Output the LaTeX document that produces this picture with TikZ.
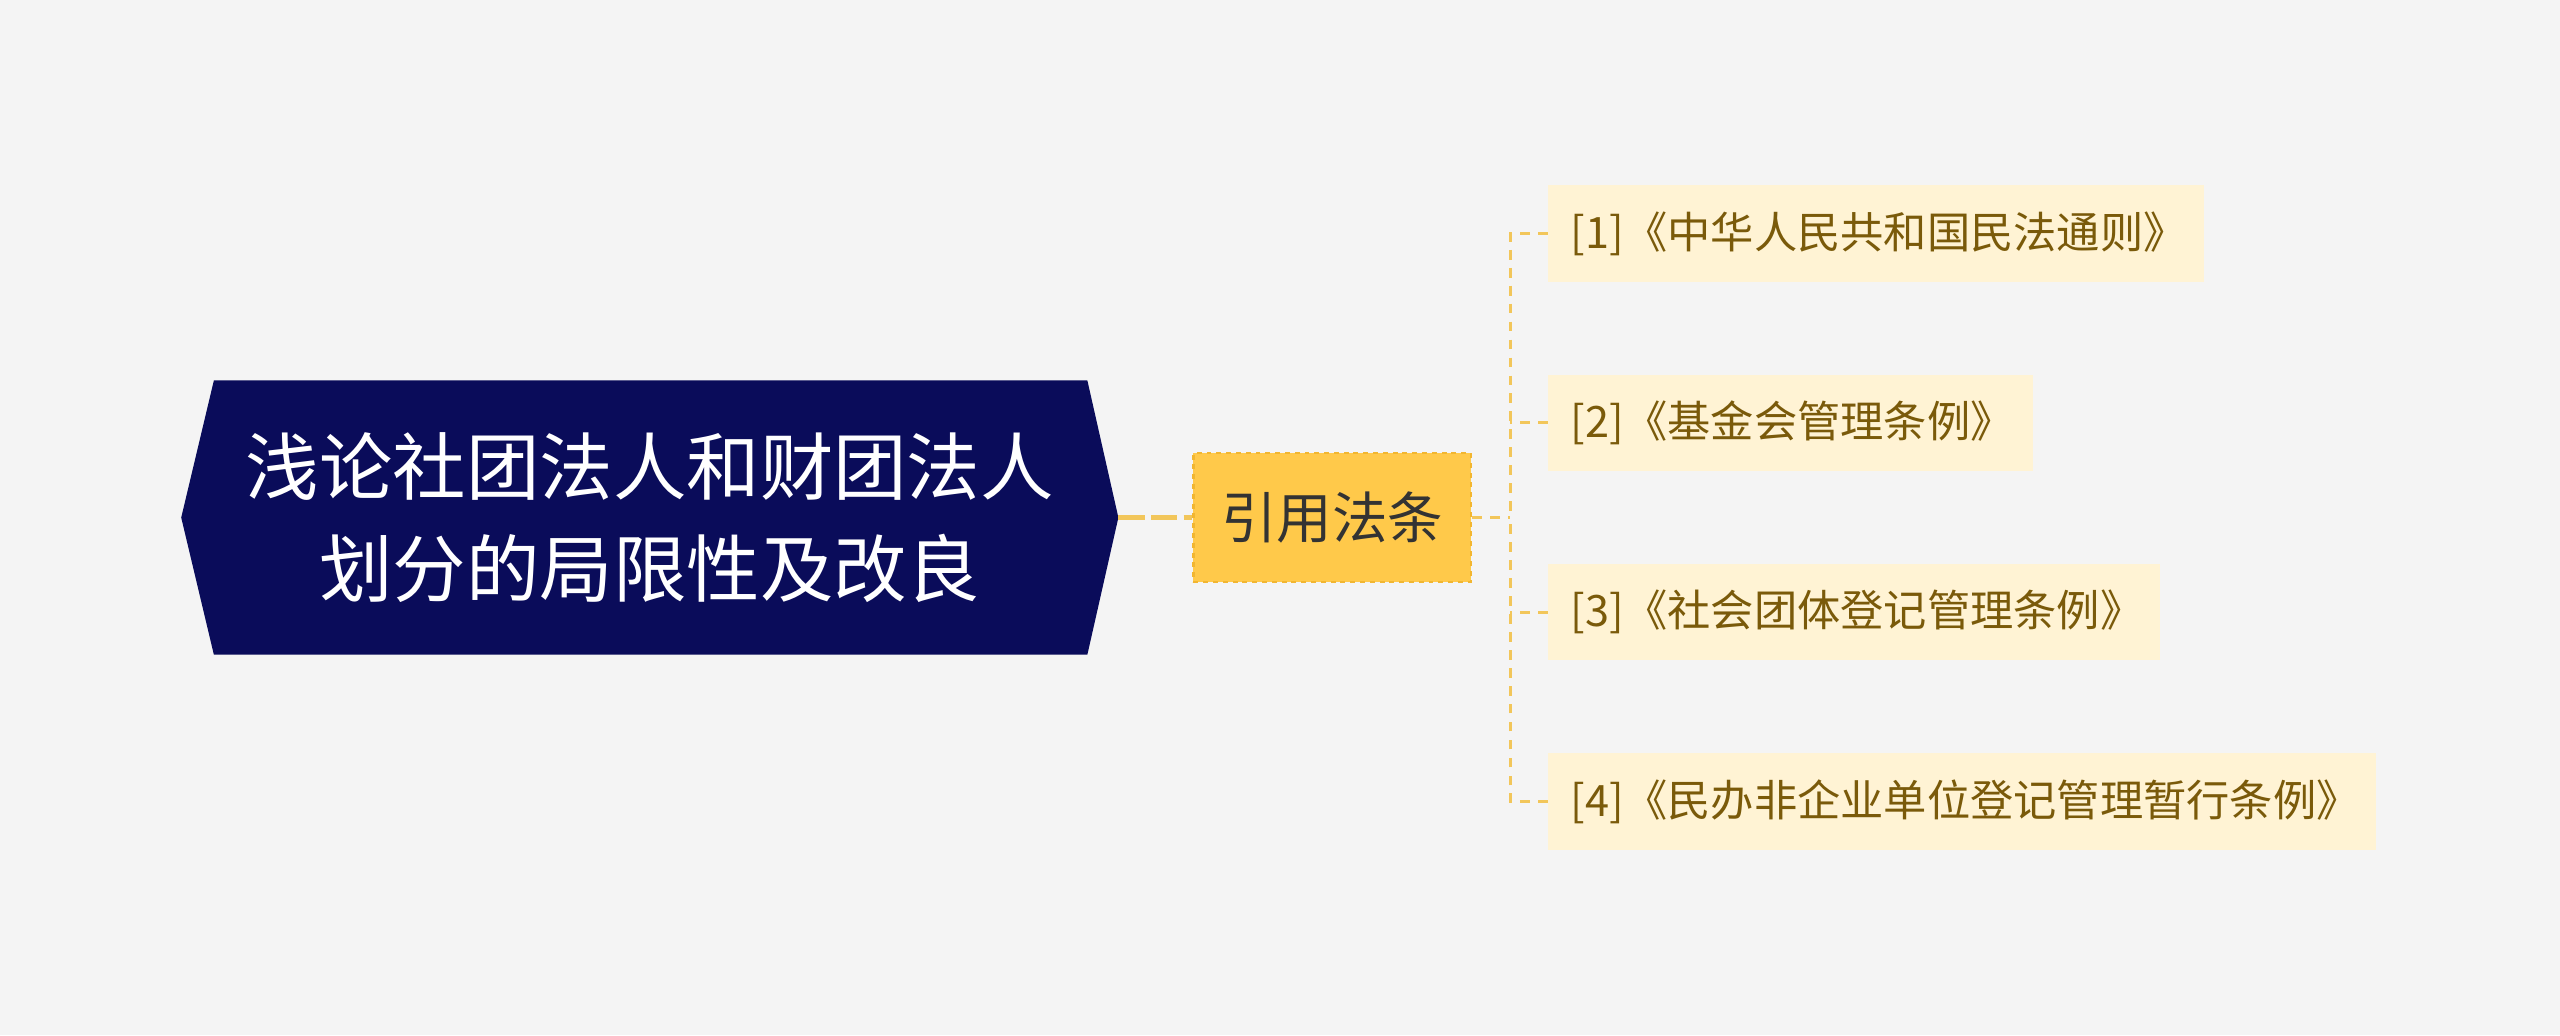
\documentclass[tikz,border=0pt]{standalone}
\usepackage{fontspec}
\setmainfont{Noto Sans CJK SC}
\usetikzlibrary{calc}
\definecolor{bg}{HTML}{F4F4F4}
\definecolor{navy}{HTML}{0A0C5A}
\definecolor{ylw}{HTML}{FFC94A}
\definecolor{ylwd}{HTML}{F2B630}
\definecolor{leaff}{HTML}{FFF3D4}
\definecolor{leaft}{HTML}{7A5A0A}
\definecolor{conn}{HTML}{F2C65A}
\tikzset{
 leaf/.style={fill=leaff,anchor=west,minimum height=59pt,inner xsep=14pt,align=left,text=leaft,font=\fontsize{26.5}{30}\selectfont},
 br/.style={conn,dash pattern=on 6pt off 5pt,line width=1.8pt}
}
\begin{document}
\begin{tikzpicture}[x=1pt,y=-1pt]
\fill[bg] (0,0) rectangle (1568,634);
\useasboundingbox (0,0) rectangle (1568,634);
\fill[navy] (111,317) -- (131,233) -- (666,233) -- (685,317) -- (666,401) -- (131,401) -- cycle;
\node[text=white,align=center,font=\fontsize{45}{62}\selectfont] (root) at (398,317) {浅论社团法人和财团法人\\划分的局限性及改良};
\coordinate (rootr) at (685,317);
\node[fill=ylw,draw=ylwd,dashed,line width=1.5pt,minimum width=170pt,minimum height=79pt,text=black!80,font=\fontsize{34}{38}\selectfont] (mid) at (816,317) {引用法条};
\draw[conn,line width=3.5pt,dash pattern=on 16pt off 4pt] (rootr) -- (mid.west);
\node[leaf,text width=374pt] (l1) at (948,143) {[1]《中华人民共和国民法通则》};
\node[leaf,text width=269pt] (l2) at (948,259) {[2]《基金会管理条例》};
\node[leaf,text width=347pt] (l3) at (948,375) {[3]《社会团体登记管理条例》};
\node[leaf,text width=479pt] (l4) at (948,491) {[4]《民办非企业单位登记管理暂行条例》};
\coordinate (tr) at (925,317);
\draw[br] (mid.east) -- (tr);
\draw[br] (l1.west) -| (tr);
\draw[br] (l4.west) -| (tr);
\draw[br] (l2.west) -- (l2.west -| tr);
\draw[br] (l3.west) -- (l3.west -| tr);
\end{tikzpicture}
\end{document}
